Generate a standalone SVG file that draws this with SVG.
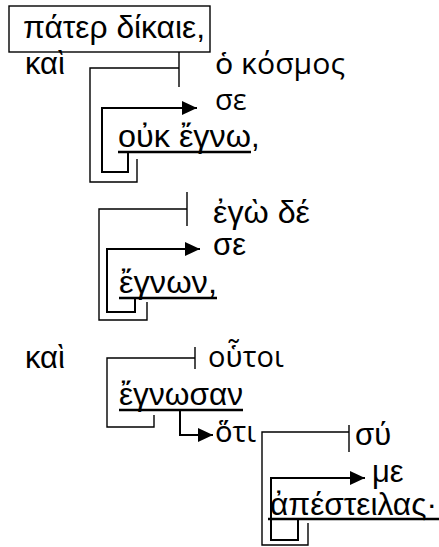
<svg xmlns="http://www.w3.org/2000/svg" width="439" height="547" viewBox="0 0 439 547">
<style>
text{font-family:"Liberation Sans","Noto Sans","DejaVu Sans",sans-serif;font-size:31px;fill:#000}
text.o{font-family:"Open Sans","Noto Sans","DejaVu Sans",sans-serif;font-size:29px}
.c{fill:none;stroke:#000;stroke-width:1.4}
.a{fill:none;stroke:#000;stroke-width:2}
.u{stroke:#000;stroke-width:2.6}
</style>
<defs>
<marker id="ah" markerUnits="userSpaceOnUse" markerWidth="16" markerHeight="14" refX="15" refY="7" orient="auto">
<path d="M0,0 L15,7 L0,14 Z" fill="#000"/>
</marker>
</defs>
<rect width="439" height="547" fill="#fff"/>
<g id="n-pater"><rect x="9" y="6" width="201" height="46" fill="none" stroke="#000" stroke-width="1.4"/><text x="23" y="38" textLength="182" lengthAdjust="spacingAndGlyphs">πάτερ δίκαιε,</text></g>
<g id="n-kai1"><text x="25" y="74">καὶ</text></g>
<g id="n-kosmos"><text class="o" x="215" y="74" textLength="130" lengthAdjust="spacingAndGlyphs">ὁ κόσμος</text></g>
<g id="n-se1"><text class="o" x="215" y="110">σε</text></g>
<g id="n-ouk"><text x="118" y="147" textLength="133" lengthAdjust="spacingAndGlyphs">οὐκ ἔγνω</text><text x="251" y="147">,</text><line class="u" x1="118" y1="152" x2="251" y2="152"/></g>
<g id="n-ego"><text x="213" y="223" textLength="97" lengthAdjust="spacingAndGlyphs">ἐγὼ δέ</text></g>
<g id="n-se2"><text x="213" y="255">σε</text></g>
<g id="n-egnon"><text x="119" y="293" textLength="98" lengthAdjust="spacingAndGlyphs">ἔγνων,</text><line class="u" x1="119" y1="298" x2="217" y2="298"/></g>
<g id="n-kai2"><text x="25" y="368">καὶ</text></g>
<g id="n-houtoi"><text class="o" x="208" y="367">οὗτοι</text></g>
<g id="n-egnosan"><text x="119" y="405" textLength="124" lengthAdjust="spacingAndGlyphs">ἔγνωσαν</text><line class="u" x1="119" y1="410" x2="243" y2="410"/></g>
<g id="n-hoti"><text class="o" x="215" y="442">ὅτι</text></g>
<g id="n-su"><text x="355" y="445">σύ</text></g>
<g id="n-me"><text x="372" y="482">με</text></g>
<g id="n-apesteilas"><text x="270" y="515" textLength="167" lengthAdjust="spacingAndGlyphs">ἀπέστειλας·</text><line class="u" x1="268" y1="519" x2="439" y2="519"/></g>
<g id="connectors">
<path class="c" d="M179,52 V87 M179,68 H90 V182 H137 V159"/>
<path class="a" d="M128,152 V172 H102 V108 H197" marker-end="url(#ah)"/>
<path class="c" d="M187,192 V226 M187,209 H99 V320 H147 V302"/>
<path class="a" d="M135,298 V312 H107 V249 H200" marker-end="url(#ah)"/>
<path class="c" d="M195,347 V369 M195,358 H107 V427 H154 V415"/>
<path class="a" d="M180,410 V435 H213" marker-end="url(#ah)"/>
<path class="c" d="M349,425 V452 M349,432 H262 V545 H308 V523"/>
<path class="a" d="M298,519 V540 H271 V478 H365" marker-end="url(#ah)"/>
</g>
</svg>
